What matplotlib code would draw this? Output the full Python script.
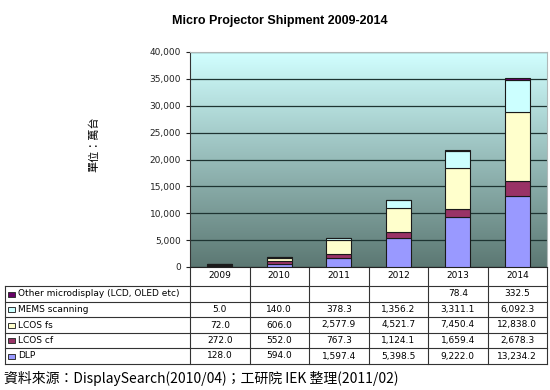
import numpy as np
import matplotlib.pyplot as plt
from matplotlib.ticker import FuncFormatter
from matplotlib.patches import Rectangle

plt.rcParams['font.family'] = ['DejaVu Sans', 'Noto Sans CJK TC']

years = ['2009', '2010', '2011', '2012', '2013', '2014']
series = ['Other microdisplay (LCD, OLED etc)', 'MEMS scanning', 'LCOS fs', 'LCOS cf', 'DLP']
dlp = [128.0, 594.0, 1597.4, 5398.5, 9222.0, 13234.2]
lcos_cf = [272.0, 552.0, 767.3, 1124.1, 1659.4, 2678.3]
lcos_fs = [72.0, 606.0, 2577.9, 4521.7, 7450.4, 12838.0]
mems = [5.0, 140.0, 378.3, 1356.2, 3311.1, 6092.3]
other = [None, None, None, None, 78.4, 332.5]

colors = {'DLP': '#9999ff', 'LCOS cf': '#993366', 'LCOS fs': '#ffffcc',
          'MEMS scanning': '#ccffff', 'Other microdisplay (LCD, OLED etc)': '#660066'}
values = {'DLP': dlp, 'LCOS cf': lcos_cf, 'LCOS fs': lcos_fs,
          'MEMS scanning': mems, 'Other microdisplay (LCD, OLED etc)': other}

W, H = 550, 390
fig = plt.figure(figsize=(W / 100, H / 100), dpi=100)

# plot area in pixels
L, R, T, B = 190, 547, 52, 267
ax = fig.add_axes([L / W, 1 - B / H, (R - L) / W, (B - T) / H])

# gradient background
grad = np.linspace(0, 1, 256).reshape(-1, 1)
top = np.array([0.82, 1.0, 1.0])
bot = np.array([0.36, 0.47, 0.45])
img = top * (1 - grad[..., None]) + bot * grad[..., None]
ax.imshow(img, extent=[0, 1, 0, 1], transform=ax.transAxes, aspect='auto', zorder=0)

x = np.arange(len(years))
bottom = np.zeros(len(years))
for name in ['DLP', 'LCOS cf', 'LCOS fs', 'MEMS scanning', 'Other microdisplay (LCD, OLED etc)']:
    v = np.array([0 if a is None else a for a in values[name]])
    ax.bar(x, v, 0.42, bottom=bottom, color=colors[name], edgecolor='#1a1a1a',
           linewidth=0.8, zorder=3)
    bottom += v

ax.set_xlim(-0.5, len(years) - 0.5)
ax.set_ylim(0, 40000)
ax.set_yticks(np.arange(0, 40001, 5000))
ax.yaxis.set_major_formatter(FuncFormatter(lambda v, p: f'{int(v):,}'))
ax.tick_params(axis='y', labelsize=6.5, length=3, colors='#222222')
ax.set_xticks([])
ax.grid(axis='y', color='#1e3432', linewidth=0.9, zorder=1)
ax.set_axisbelow(True)
for s in ['top', 'right']:
    ax.spines[s].set_color('#b0b8b8')
ax.spines['left'].set_color('#333333')
ax.spines['bottom'].set_color('#222222')

fig.text(280 / W, 1 - 21 / H, 'Micro Projector Shipment 2009-2014', ha='center', va='center',
         fontsize=9, fontweight='bold', family='Liberation Sans')
fig.text(94 / W, 1 - 144 / H, '單位：萬台', rotation=90, ha='center', va='center',
         fontsize=8, family=['Noto Sans CJK TC', 'DejaVu Sans'])

# table drawn in pixel coordinates
tx = fig.add_axes([0, 0, 1, 1], zorder=-1)
tx.set_xlim(0, W)
tx.set_ylim(H, 0)
tx.axis('off')

cols = [L + (R - L) * i / 6 for i in range(7)]
lc = '#333333'
# year header row
for cx in cols:
    tx.plot([cx, cx], [B, 286], color=lc, lw=0.8)
for i, yr in enumerate(years):
    tx.text((cols[i] + cols[i + 1]) / 2, 276, yr, ha='center', va='center', fontsize=6.5)

rows_y = [286, 302, 317, 333, 348, 364]
for ry in rows_y:
    tx.plot([5, R], [ry, ry], color=lc, lw=0.8)
for cx in [5] + cols:
    tx.plot([cx, cx], [rows_y[0], rows_y[-1]], color=lc, lw=0.8)

for j, name in enumerate(series):
    cy = (rows_y[j] + rows_y[j + 1]) / 2
    tx.add_patch(Rectangle((8, cy - 2.5), 7, 5, facecolor=colors[name], edgecolor='#333333', lw=0.7))
    tx.text(18, cy, name, ha='left', va='center', fontsize=6.5)
    for i, v in enumerate(values[name]):
        if v is not None:
            tx.text((cols[i] + cols[i + 1]) / 2, cy, f'{v:,.1f}', ha='center', va='center',
                    fontsize=6.5)

tx.text(4, 378, '資料來源：DisplaySearch(2010/04)；工研院 IEK 整理(2011/02)', ha='left', va='center',
        fontsize=10, family=['Noto Sans CJK TC', 'DejaVu Sans'])

fig.savefig('out.png', dpi=100, facecolor='white')
